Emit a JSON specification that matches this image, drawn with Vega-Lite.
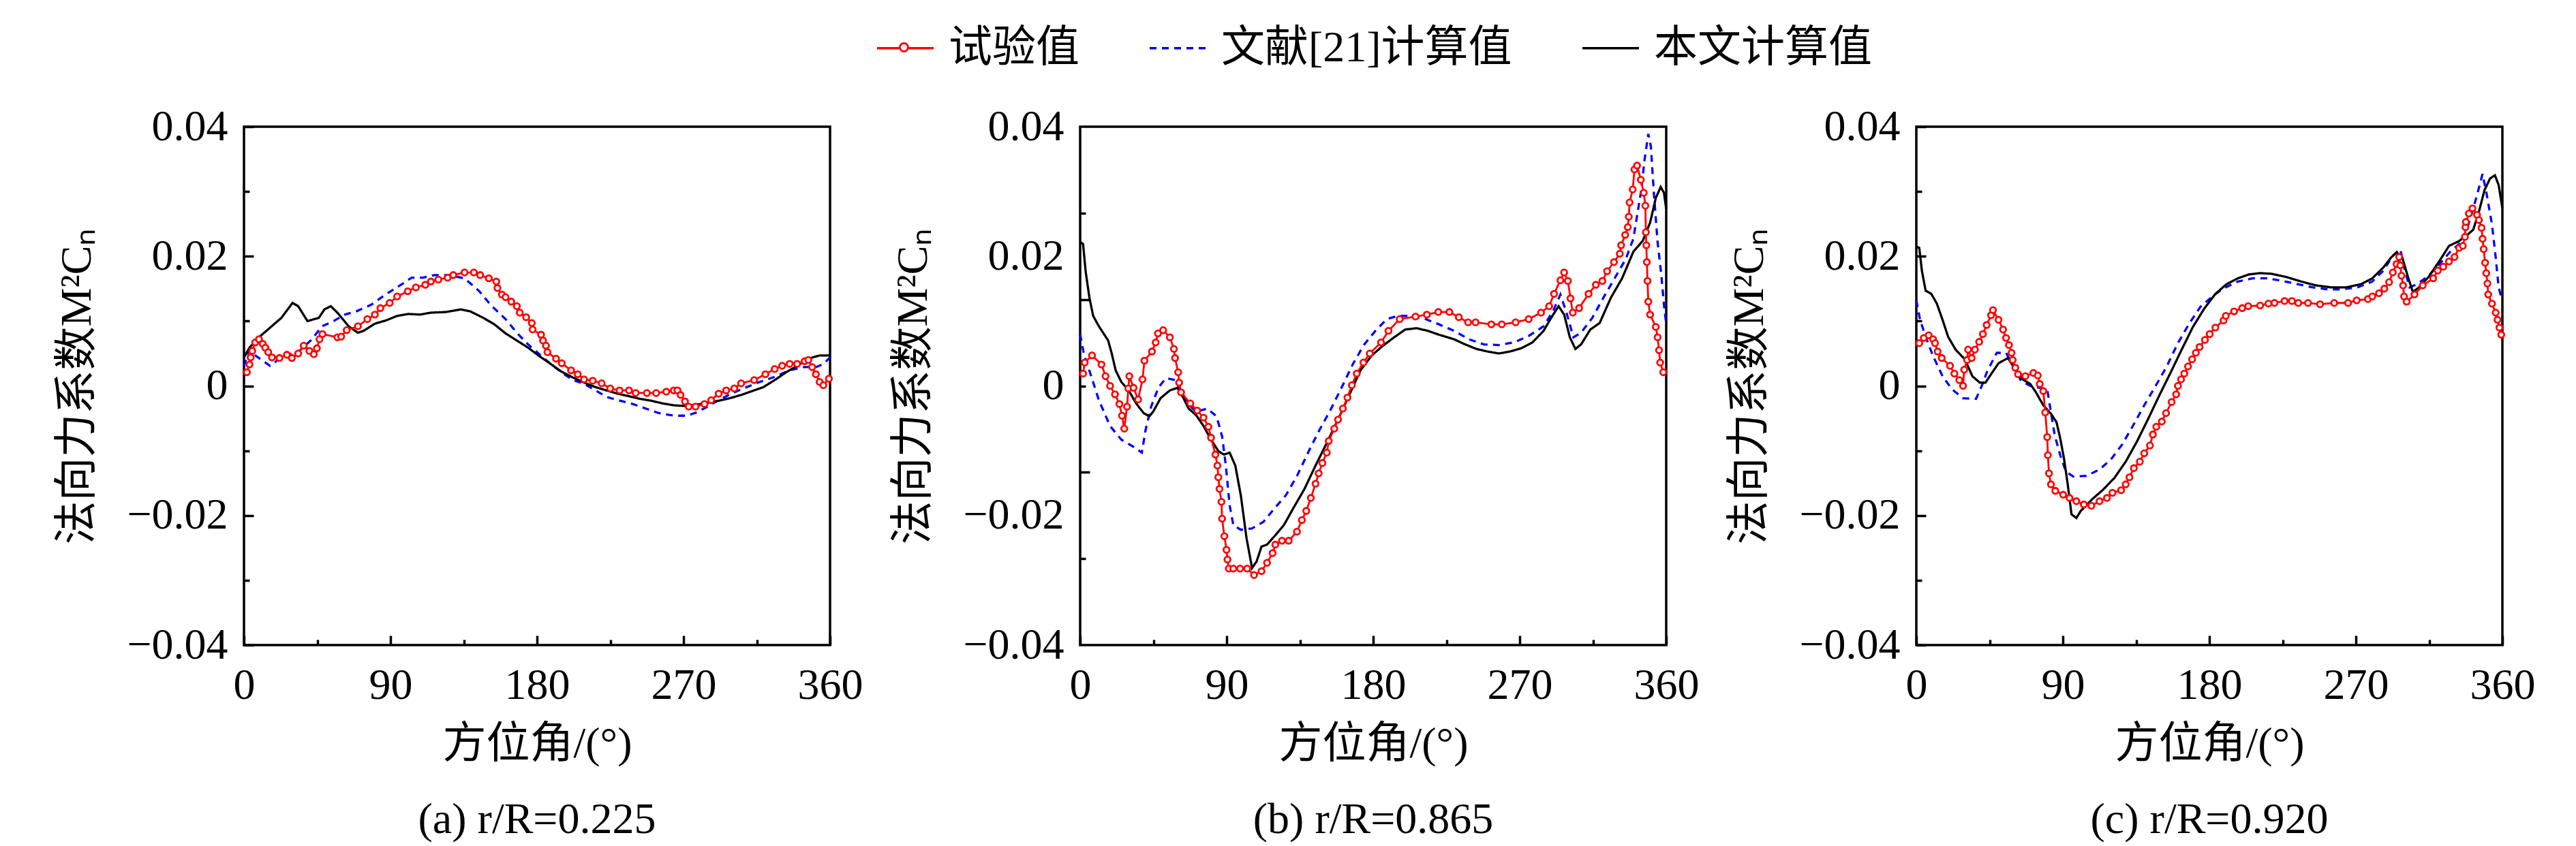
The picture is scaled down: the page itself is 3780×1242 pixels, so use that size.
{
"$schema": "https://vega.github.io/schema/vega-lite/v6.json",
"padding": {"left": 80, "top": 27, "right": 5, "bottom": 5},
"background": "white",
"data": {"values": [
{"p":"a","s":"本文计算值","a":0,"v":0.0044},{"p":"a","s":"本文计算值","a":3.4,"v":0.0059},{"p":"a","s":"本文计算值","a":9.2,"v":0.0075},{"p":"a","s":"本文计算值","a":16.1,"v":0.009},{"p":"a","s":"本文计算值","a":23,"v":0.0105},{"p":"a","s":"本文计算值","a":29.8,"v":0.0128},{"p":"a","s":"本文计算值","a":33.3,"v":0.0123},{"p":"a","s":"本文计算值","a":39,"v":0.01},{"p":"a","s":"本文计算值","a":46,"v":0.0105},{"p":"a","s":"本文计算值","a":49.4,"v":0.0118},{"p":"a","s":"本文计算值","a":53.3,"v":0.0123},{"p":"a","s":"本文计算值","a":57.4,"v":0.0113},{"p":"a","s":"本文计算值","a":64.3,"v":0.0092},{"p":"a","s":"本文计算值","a":70,"v":0.0082},{"p":"a","s":"本文计算值","a":73.5,"v":0.0085},{"p":"a","s":"本文计算值","a":80.4,"v":0.0096},{"p":"a","s":"本文计算值","a":87.2,"v":0.0101},{"p":"a","s":"本文计算值","a":94.1,"v":0.0108},{"p":"a","s":"本文计算值","a":101,"v":0.0111},{"p":"a","s":"本文计算值","a":108,"v":0.011},{"p":"a","s":"本文计算值","a":114.8,"v":0.0113},{"p":"a","s":"本文计算值","a":124,"v":0.0114},{"p":"a","s":"本文计算值","a":133.2,"v":0.0118},{"p":"a","s":"本文计算值","a":139,"v":0.0115},{"p":"a","s":"本文计算值","a":147,"v":0.0105},{"p":"a","s":"本文计算值","a":153.8,"v":0.0095},{"p":"a","s":"本文计算值","a":160.7,"v":0.0081},{"p":"a","s":"本文计算值","a":167.6,"v":0.007},{"p":"a","s":"本文计算值","a":174.5,"v":0.0059},{"p":"a","s":"本文计算值","a":181.4,"v":0.0046},{"p":"a","s":"本文计算值","a":188.3,"v":0.0034},{"p":"a","s":"本文计算值","a":195,"v":0.0022},{"p":"a","s":"本文计算值","a":202,"v":0.0013},{"p":"a","s":"本文计算值","a":209,"v":0.0005},{"p":"a","s":"本文计算值","a":216,"v":-0.0002},{"p":"a","s":"本文计算值","a":222.7,"v":-0.0007},{"p":"a","s":"本文计算值","a":229.6,"v":-0.0012},{"p":"a","s":"本文计算值","a":236.5,"v":-0.0016},{"p":"a","s":"本文计算值","a":243.4,"v":-0.002},{"p":"a","s":"本文计算值","a":250.3,"v":-0.0023},{"p":"a","s":"本文计算值","a":257,"v":-0.0027},{"p":"a","s":"本文计算值","a":264,"v":-0.003},{"p":"a","s":"本文计算值","a":271,"v":-0.0031},{"p":"a","s":"本文计算值","a":278,"v":-0.0029},{"p":"a","s":"本文计算值","a":284.7,"v":-0.0026},{"p":"a","s":"本文计算值","a":291.6,"v":-0.0023},{"p":"a","s":"本文计算值","a":298.5,"v":-0.0019},{"p":"a","s":"本文计算值","a":305.4,"v":-0.0014},{"p":"a","s":"本文计算值","a":312.2,"v":-0.0008},{"p":"a","s":"本文计算值","a":319,"v":-0.0002},{"p":"a","s":"本文计算值","a":326,"v":0.0009},{"p":"a","s":"本文计算值","a":333,"v":0.0021},{"p":"a","s":"本文计算值","a":339.8,"v":0.0031},{"p":"a","s":"本文计算值","a":346.7,"v":0.0042},{"p":"a","s":"本文计算值","a":353.6,"v":0.0047},{"p":"a","s":"本文计算值","a":360,"v":0.0047},
{"p":"a","s":"文献[21]计算值","a":0,"v":0.003},{"p":"a","s":"文献[21]计算值","a":3,"v":0.0055},{"p":"a","s":"文献[21]计算值","a":8,"v":0.0045},{"p":"a","s":"文献[21]计算值","a":16,"v":0.0031},{"p":"a","s":"文献[21]计算值","a":23,"v":0.0044},{"p":"a","s":"文献[21]计算值","a":34,"v":0.0054},{"p":"a","s":"文献[21]计算值","a":41,"v":0.007},{"p":"a","s":"文献[21]计算值","a":48,"v":0.0092},{"p":"a","s":"文献[21]计算值","a":55,"v":0.01},{"p":"a","s":"文献[21]计算值","a":62,"v":0.011},{"p":"a","s":"文献[21]计算值","a":69,"v":0.0115},{"p":"a","s":"文献[21]计算值","a":78,"v":0.0125},{"p":"a","s":"文献[21]计算值","a":87,"v":0.0141},{"p":"a","s":"文献[21]计算值","a":96.4,"v":0.0156},{"p":"a","s":"文献[21]计算值","a":103,"v":0.0167},{"p":"a","s":"文献[21]计算值","a":110,"v":0.0167},{"p":"a","s":"文献[21]计算值","a":117,"v":0.0171},{"p":"a","s":"文献[21]计算值","a":126,"v":0.0171},{"p":"a","s":"文献[21]计算值","a":135.5,"v":0.0166},{"p":"a","s":"文献[21]计算值","a":144.6,"v":0.0146},{"p":"a","s":"文献[21]计算值","a":151.5,"v":0.0125},{"p":"a","s":"文献[21]计算值","a":160.7,"v":0.0103},{"p":"a","s":"文献[21]计算值","a":167.6,"v":0.0082},{"p":"a","s":"文献[21]计算值","a":174.5,"v":0.0064},{"p":"a","s":"文献[21]计算值","a":181.4,"v":0.0049},{"p":"a","s":"文献[21]计算值","a":188.3,"v":0.0034},{"p":"a","s":"文献[21]计算值","a":195,"v":0.0021},{"p":"a","s":"文献[21]计算值","a":202,"v":0.0009},{"p":"a","s":"文献[21]计算值","a":209,"v":0.0003},{"p":"a","s":"文献[21]计算值","a":216,"v":-0.0007},{"p":"a","s":"文献[21]计算值","a":222.7,"v":-0.0017},{"p":"a","s":"文献[21]计算值","a":229.6,"v":-0.0022},{"p":"a","s":"文献[21]计算值","a":238.8,"v":-0.0028},{"p":"a","s":"文献[21]计算值","a":248,"v":-0.0036},{"p":"a","s":"文献[21]计算值","a":254.8,"v":-0.0042},{"p":"a","s":"文献[21]计算值","a":264,"v":-0.0046},{"p":"a","s":"文献[21]计算值","a":272,"v":-0.0046},{"p":"a","s":"文献[21]计算值","a":278,"v":-0.0041},{"p":"a","s":"文献[21]计算值","a":284.7,"v":-0.0032},{"p":"a","s":"文献[21]计算值","a":291.6,"v":-0.0022},{"p":"a","s":"文献[21]计算值","a":298.5,"v":-0.0013},{"p":"a","s":"文献[21]计算值","a":307.7,"v":-0.0003},{"p":"a","s":"文献[21]计算值","a":316.8,"v":0.0006},{"p":"a","s":"文献[21]计算值","a":326,"v":0.0014},{"p":"a","s":"文献[21]计算值","a":335,"v":0.0024},{"p":"a","s":"文献[21]计算值","a":344,"v":0.0029},{"p":"a","s":"文献[21]计算值","a":351.4,"v":0.0029},{"p":"a","s":"文献[21]计算值","a":356,"v":0.0034},{"p":"a","s":"文献[21]计算值","a":360,"v":0.0044},
{"p":"a","s":"试验值","a":1.8,"v":0.0021},{"p":"a","s":"试验值","a":3.4,"v":0.0033},{"p":"a","s":"试验值","a":4.1,"v":0.0044},{"p":"a","s":"试验值","a":5.1,"v":0.0054},{"p":"a","s":"试验值","a":6.9,"v":0.0067},{"p":"a","s":"试验值","a":9.2,"v":0.0072},{"p":"a","s":"试验值","a":11.5,"v":0.0065},{"p":"a","s":"试验值","a":13.1,"v":0.0059},{"p":"a","s":"试验值","a":14.9,"v":0.0052},{"p":"a","s":"试验值","a":17.2,"v":0.0044},{"p":"a","s":"试验值","a":21.8,"v":0.0043},{"p":"a","s":"试验值","a":26.4,"v":0.0048},{"p":"a","s":"试验值","a":29.4,"v":0.0043},{"p":"a","s":"试验值","a":33.3,"v":0.005},{"p":"a","s":"试验值","a":36.7,"v":0.0062},{"p":"a","s":"试验值","a":40.2,"v":0.0054},{"p":"a","s":"试验值","a":42.9,"v":0.0049},{"p":"a","s":"试验值","a":44.8,"v":0.0058},{"p":"a","s":"试验值","a":46.4,"v":0.0072},{"p":"a","s":"试验值","a":48.2,"v":0.008},{"p":"a","s":"试验值","a":57.4,"v":0.0075},{"p":"a","s":"试验值","a":59.7,"v":0.0076},{"p":"a","s":"试验值","a":63.1,"v":0.0086},{"p":"a","s":"试验值","a":70,"v":0.0092},{"p":"a","s":"试验值","a":75.8,"v":0.0103},{"p":"a","s":"试验值","a":80.4,"v":0.011},{"p":"a","s":"试验值","a":83.8,"v":0.012},{"p":"a","s":"试验值","a":89.5,"v":0.0128},{"p":"a","s":"试验值","a":94.1,"v":0.0138},{"p":"a","s":"试验值","a":100.6,"v":0.0146},{"p":"a","s":"试验值","a":105.6,"v":0.0152},{"p":"a","s":"试验值","a":111.4,"v":0.0156},{"p":"a","s":"试验值","a":114.8,"v":0.0161},{"p":"a","s":"试验值","a":119.4,"v":0.0164},{"p":"a","s":"试验值","a":125.1,"v":0.0167},{"p":"a","s":"试验值","a":128.6,"v":0.0171},{"p":"a","s":"试验值","a":135.5,"v":0.0175},{"p":"a","s":"试验值","a":141.2,"v":0.0175},{"p":"a","s":"试验值","a":145.1,"v":0.0171},{"p":"a","s":"试验值","a":150.4,"v":0.0166},{"p":"a","s":"试验值","a":155,"v":0.0161},{"p":"a","s":"试验值","a":155.7,"v":0.0151},{"p":"a","s":"试验值","a":158.4,"v":0.0141},{"p":"a","s":"试验值","a":160.7,"v":0.0137},{"p":"a","s":"试验值","a":164.2,"v":0.013},{"p":"a","s":"试验值","a":167.6,"v":0.0123},{"p":"a","s":"试验值","a":169.4,"v":0.0113},{"p":"a","s":"试验值","a":173.3,"v":0.0106},{"p":"a","s":"试验值","a":176.8,"v":0.0097},{"p":"a","s":"试验值","a":177.3,"v":0.0087},{"p":"a","s":"试验值","a":182.5,"v":0.0079},{"p":"a","s":"试验值","a":183.7,"v":0.007},{"p":"a","s":"试验值","a":185.5,"v":0.0062},{"p":"a","s":"试验值","a":186.4,"v":0.0052},{"p":"a","s":"试验值","a":191.7,"v":0.0042},{"p":"a","s":"试验值","a":195.2,"v":0.0035},{"p":"a","s":"试验值","a":200.9,"v":0.0024},{"p":"a","s":"试验值","a":205,"v":0.0018},{"p":"a","s":"试验值","a":208.9,"v":0.001},{"p":"a","s":"试验值","a":214.2,"v":0.0008},{"p":"a","s":"试验值","a":219.7,"v":0.0004},{"p":"a","s":"试验值","a":225,"v":-0.0004},{"p":"a","s":"试验值","a":230.7,"v":-0.0007},{"p":"a","s":"试验值","a":236.5,"v":-0.0007},{"p":"a","s":"试验值","a":240.6,"v":-0.0011},{"p":"a","s":"试验值","a":247.5,"v":-0.0011},{"p":"a","s":"试验值","a":253.2,"v":-0.0011},{"p":"a","s":"试验值","a":259.4,"v":-0.0009},{"p":"a","s":"试验值","a":264,"v":-0.0007},{"p":"a","s":"试验值","a":266.3,"v":-0.0007},{"p":"a","s":"试验值","a":268.2,"v":-0.0014},{"p":"a","s":"试验值","a":270.9,"v":-0.0024},{"p":"a","s":"试验值","a":273.2,"v":-0.0032},{"p":"a","s":"试验值","a":277.4,"v":-0.0032},{"p":"a","s":"试验值","a":282.9,"v":-0.0028},{"p":"a","s":"试验值","a":287,"v":-0.0022},{"p":"a","s":"试验值","a":291.6,"v":-0.0012},{"p":"a","s":"试验值","a":296.2,"v":-0.0007},{"p":"a","s":"试验值","a":301.2,"v":-0.0004},{"p":"a","s":"试验值","a":305.4,"v":0.0004},{"p":"a","s":"试验值","a":313.4,"v":0.0009},{"p":"a","s":"试验值","a":320.3,"v":0.0018},{"p":"a","s":"试验值","a":326,"v":0.0026},{"p":"a","s":"试验值","a":330.6,"v":0.0031},{"p":"a","s":"试验值","a":335.2,"v":0.0034},{"p":"a","s":"试验值","a":339.8,"v":0.0034},{"p":"a","s":"试验值","a":344.4,"v":0.0038},{"p":"a","s":"试验值","a":346.7,"v":0.004},{"p":"a","s":"试验值","a":349,"v":0.0029},{"p":"a","s":"试验值","a":351.3,"v":0.0018},{"p":"a","s":"试验值","a":353.6,"v":0.0006},{"p":"a","s":"试验值","a":355.9,"v":0.0001},{"p":"a","s":"试验值","a":359.3,"v":0.0011},
{"p":"b","s":"本文计算值","a":0,"v":0.0222},{"p":"b","s":"本文计算值","a":1.8,"v":0.0219},{"p":"b","s":"本文计算值","a":3.4,"v":0.0176},{"p":"b","s":"本文计算值","a":5.7,"v":0.0136},{"p":"b","s":"本文计算值","a":8,"v":0.0108},{"p":"b","s":"本文计算值","a":11.5,"v":0.0092},{"p":"b","s":"本文计算值","a":17.2,"v":0.007},{"p":"b","s":"本文计算值","a":19.5,"v":0.0049},{"p":"b","s":"本文计算值","a":21.8,"v":0.0024},{"p":"b","s":"本文计算值","a":25.3,"v":0.0006},{"p":"b","s":"本文计算值","a":29.8,"v":-0.0007},{"p":"b","s":"本文计算值","a":34.4,"v":-0.0027},{"p":"b","s":"本文计算值","a":39,"v":-0.0042},{"p":"b","s":"本文计算值","a":42.5,"v":-0.0047},{"p":"b","s":"本文计算值","a":44.8,"v":-0.004},{"p":"b","s":"本文计算值","a":49.4,"v":-0.0019},{"p":"b","s":"本文计算值","a":55.1,"v":-0.0007},{"p":"b","s":"本文计算值","a":59.7,"v":-0.0003},{"p":"b","s":"本文计算值","a":63.1,"v":-0.0017},{"p":"b","s":"本文计算值","a":66.6,"v":-0.0035},{"p":"b","s":"本文计算值","a":71.2,"v":-0.0045},{"p":"b","s":"本文计算值","a":75.8,"v":-0.0062},{"p":"b","s":"本文计算值","a":80.4,"v":-0.0083},{"p":"b","s":"本文计算值","a":85,"v":-0.0101},{"p":"b","s":"本文计算值","a":88.4,"v":-0.0106},{"p":"b","s":"本文计算值","a":91.8,"v":-0.0103},{"p":"b","s":"本文计算值","a":95.3,"v":-0.0123},{"p":"b","s":"本文计算值","a":98.7,"v":-0.0169},{"p":"b","s":"本文计算值","a":102.2,"v":-0.0235},{"p":"b","s":"本文计算值","a":105.6,"v":-0.0281},{"p":"b","s":"本文计算值","a":108.4,"v":-0.0271},{"p":"b","s":"本文计算值","a":111.4,"v":-0.0248},{"p":"b","s":"本文计算值","a":114.8,"v":-0.0245},{"p":"b","s":"本文计算值","a":119.4,"v":-0.0232},{"p":"b","s":"本文计算值","a":125.1,"v":-0.0215},{"p":"b","s":"本文计算值","a":130.9,"v":-0.0189},{"p":"b","s":"本文计算值","a":137.8,"v":-0.0159},{"p":"b","s":"本文计算值","a":144.6,"v":-0.0123},{"p":"b","s":"本文计算值","a":151.5,"v":-0.0088},{"p":"b","s":"本文计算值","a":158.4,"v":-0.0052},{"p":"b","s":"本文计算值","a":165.3,"v":-0.0014},{"p":"b","s":"本文计算值","a":172.2,"v":0.0024},{"p":"b","s":"本文计算值","a":179.1,"v":0.0047},{"p":"b","s":"本文计算值","a":186,"v":0.0062},{"p":"b","s":"本文计算值","a":192.9,"v":0.0075},{"p":"b","s":"本文计算值","a":199.7,"v":0.0087},{"p":"b","s":"本文计算值","a":206.6,"v":0.0089},{"p":"b","s":"本文计算值","a":213.5,"v":0.0085},{"p":"b","s":"本文计算值","a":220.4,"v":0.0079},{"p":"b","s":"本文计算值","a":229.6,"v":0.0072},{"p":"b","s":"本文计算值","a":236.5,"v":0.0064},{"p":"b","s":"本文计算值","a":243.4,"v":0.0057},{"p":"b","s":"本文计算值","a":250.3,"v":0.0053},{"p":"b","s":"本文计算值","a":257.2,"v":0.005},{"p":"b","s":"本文计算值","a":264,"v":0.0053},{"p":"b","s":"本文计算值","a":270.9,"v":0.0058},{"p":"b","s":"本文计算值","a":277.8,"v":0.0067},{"p":"b","s":"本文计算值","a":284.7,"v":0.0085},{"p":"b","s":"本文计算值","a":289.3,"v":0.0105},{"p":"b","s":"本文计算值","a":293.9,"v":0.0123},{"p":"b","s":"本文计算值","a":297.3,"v":0.011},{"p":"b","s":"本文计算值","a":300.8,"v":0.0075},{"p":"b","s":"本文计算值","a":304.2,"v":0.0057},{"p":"b","s":"本文计算值","a":307.7,"v":0.0064},{"p":"b","s":"本文计算值","a":313.4,"v":0.0087},{"p":"b","s":"本文计算值","a":319.1,"v":0.0097},{"p":"b","s":"本文计算值","a":326,"v":0.0136},{"p":"b","s":"本文计算值","a":332.9,"v":0.0166},{"p":"b","s":"本文计算值","a":339.8,"v":0.0207},{"p":"b","s":"本文计算值","a":345.6,"v":0.0224},{"p":"b","s":"本文计算值","a":350.1,"v":0.0252},{"p":"b","s":"本文计算值","a":353.6,"v":0.029},{"p":"b","s":"本文计算值","a":356.6,"v":0.0307},{"p":"b","s":"本文计算值","a":358.6,"v":0.0298},{"p":"b","s":"本文计算值","a":360,"v":0.0273},
{"p":"b","s":"文献[21]计算值","a":0,"v":0.008},{"p":"b","s":"文献[21]计算值","a":2.3,"v":0.0049},{"p":"b","s":"文献[21]计算值","a":6.9,"v":0.0014},{"p":"b","s":"文献[21]计算值","a":11.5,"v":-0.0022},{"p":"b","s":"文献[21]计算值","a":18.4,"v":-0.0062},{"p":"b","s":"文献[21]计算值","a":25.3,"v":-0.0083},{"p":"b","s":"文献[21]计算值","a":32.1,"v":-0.0093},{"p":"b","s":"文献[21]计算值","a":37.9,"v":-0.0103},{"p":"b","s":"文献[21]计算值","a":40.2,"v":-0.0068},{"p":"b","s":"文献[21]计算值","a":43.6,"v":-0.0032},{"p":"b","s":"文献[21]计算值","a":48.2,"v":-0.0002},{"p":"b","s":"文献[21]计算值","a":52.8,"v":0.0012},{"p":"b","s":"文献[21]计算值","a":58.5,"v":0.0009},{"p":"b","s":"文献[21]计算值","a":62,"v":-0.0007},{"p":"b","s":"文献[21]计算值","a":66.6,"v":-0.0029},{"p":"b","s":"文献[21]计算值","a":71.2,"v":-0.004},{"p":"b","s":"文献[21]计算值","a":78,"v":-0.0035},{"p":"b","s":"文献[21]计算值","a":83.8,"v":-0.0047},{"p":"b","s":"文献[21]计算值","a":87.2,"v":-0.0078},{"p":"b","s":"文献[21]计算值","a":89.5,"v":-0.0123},{"p":"b","s":"文献[21]计算值","a":91.8,"v":-0.0184},{"p":"b","s":"文献[21]计算值","a":94.1,"v":-0.0215},{"p":"b","s":"文献[21]计算值","a":98.7,"v":-0.0222},{"p":"b","s":"文献[21]计算值","a":105.6,"v":-0.022},{"p":"b","s":"文献[21]计算值","a":112.5,"v":-0.021},{"p":"b","s":"文献[21]计算值","a":119.4,"v":-0.0189},{"p":"b","s":"文献[21]计算值","a":126.3,"v":-0.0169},{"p":"b","s":"文献[21]计算值","a":133.2,"v":-0.0139},{"p":"b","s":"文献[21]计算值","a":140,"v":-0.0103},{"p":"b","s":"文献[21]计算值","a":147,"v":-0.0068},{"p":"b","s":"文献[21]计算值","a":153.8,"v":-0.0037},{"p":"b","s":"文献[21]计算值","a":160.7,"v":-0.0002},{"p":"b","s":"文献[21]计算值","a":167.6,"v":0.0034},{"p":"b","s":"文献[21]计算值","a":174.5,"v":0.0064},{"p":"b","s":"文献[21]计算值","a":181.4,"v":0.0085},{"p":"b","s":"文献[21]计算值","a":188.3,"v":0.0103},{"p":"b","s":"文献[21]计算值","a":195.2,"v":0.0108},{"p":"b","s":"文献[21]计算值","a":202,"v":0.0108},{"p":"b","s":"文献[21]计算值","a":211.2,"v":0.0104},{"p":"b","s":"文献[21]计算值","a":220.4,"v":0.0095},{"p":"b","s":"文献[21]计算值","a":229.6,"v":0.0085},{"p":"b","s":"文献[21]计算值","a":238.8,"v":0.0072},{"p":"b","s":"文献[21]计算值","a":248,"v":0.0064},{"p":"b","s":"文献[21]计算值","a":257.2,"v":0.0063},{"p":"b","s":"文献[21]计算值","a":266.3,"v":0.0067},{"p":"b","s":"文献[21]计算值","a":275.5,"v":0.0077},{"p":"b","s":"文献[21]计算值","a":284.7,"v":0.0092},{"p":"b","s":"文献[21]计算值","a":290.4,"v":0.0115},{"p":"b","s":"文献[21]计算值","a":295,"v":0.0141},{"p":"b","s":"文献[21]计算值","a":298.5,"v":0.0115},{"p":"b","s":"文献[21]计算值","a":303,"v":0.0075},{"p":"b","s":"文献[21]计算值","a":307.7,"v":0.0082},{"p":"b","s":"文献[21]计算值","a":314.6,"v":0.0105},{"p":"b","s":"文献[21]计算值","a":321.4,"v":0.0136},{"p":"b","s":"文献[21]计算值","a":328.3,"v":0.0166},{"p":"b","s":"文献[21]计算值","a":335.2,"v":0.0196},{"p":"b","s":"文献[21]计算值","a":339.8,"v":0.0227},{"p":"b","s":"文献[21]计算值","a":344.4,"v":0.0298},{"p":"b","s":"文献[21]计算值","a":346.7,"v":0.0349},{"p":"b","s":"文献[21]计算值","a":349,"v":0.0389},{"p":"b","s":"文献[21]计算值","a":350.6,"v":0.0369},{"p":"b","s":"文献[21]计算值","a":352.4,"v":0.0298},{"p":"b","s":"文献[21]计算值","a":354.7,"v":0.0222},{"p":"b","s":"文献[21]计算值","a":357,"v":0.0171},{"p":"b","s":"文献[21]计算值","a":358.6,"v":0.0125},{"p":"b","s":"文献[21]计算值","a":360,"v":0.0095},
{"p":"b","s":"试验值","a":1.8,"v":0.0019},{"p":"b","s":"试验值","a":2.8,"v":0.0036},{"p":"b","s":"试验值","a":7.3,"v":0.0047},{"p":"b","s":"试验值","a":13.1,"v":0.0033},{"p":"b","s":"试验值","a":15.6,"v":0.0015},{"p":"b","s":"试验值","a":18.4,"v":0},{"p":"b","s":"试验值","a":21.4,"v":-0.0013},{"p":"b","s":"试验值","a":24.1,"v":-0.0028},{"p":"b","s":"试验值","a":25.7,"v":-0.0046},{"p":"b","s":"试验值","a":27.1,"v":-0.0066},{"p":"b","s":"试验值","a":28.8,"v":-0.0032},{"p":"b","s":"试验值","a":29.6,"v":-0.0004},{"p":"b","s":"试验值","a":30.2,"v":0.0015},{"p":"b","s":"试验值","a":32.8,"v":-0.0003},{"p":"b","s":"试验值","a":35.6,"v":-0.0021},{"p":"b","s":"试验值","a":38.3,"v":0.001},{"p":"b","s":"试验值","a":39.5,"v":0.0039},{"p":"b","s":"试验值","a":44.1,"v":0.0053},{"p":"b","s":"试验值","a":46.4,"v":0.0067},{"p":"b","s":"试验值","a":47.8,"v":0.0081},{"p":"b","s":"试验值","a":51,"v":0.0086},{"p":"b","s":"试验值","a":55.1,"v":0.0075},{"p":"b","s":"试验值","a":57.6,"v":0.0057},{"p":"b","s":"试验值","a":58.3,"v":0.0043},{"p":"b","s":"试验值","a":60.2,"v":0.0021},{"p":"b","s":"试验值","a":60.8,"v":0.0005},{"p":"b","s":"试验值","a":62,"v":-0.001},{"p":"b","s":"试验值","a":67.7,"v":-0.0027},{"p":"b","s":"试验值","a":71.9,"v":-0.0038},{"p":"b","s":"试验值","a":75.8,"v":-0.0049},{"p":"b","s":"试验值","a":78.8,"v":-0.0063},{"p":"b","s":"试验值","a":80.4,"v":-0.008},{"p":"b","s":"试验值","a":83.1,"v":-0.0106},{"p":"b","s":"试验值","a":84.3,"v":-0.0123},{"p":"b","s":"试验值","a":84.9,"v":-0.0141},{"p":"b","s":"试验值","a":85.6,"v":-0.0159},{"p":"b","s":"试验值","a":86.8,"v":-0.0179},{"p":"b","s":"试验值","a":87.2,"v":-0.0205},{"p":"b","s":"试验值","a":88.6,"v":-0.0232},{"p":"b","s":"试验值","a":89.9,"v":-0.0253},{"p":"b","s":"试验值","a":90.5,"v":-0.0268},{"p":"b","s":"试验值","a":91.3,"v":-0.0282},{"p":"b","s":"试验值","a":94.1,"v":-0.0282},{"p":"b","s":"试验值","a":98.3,"v":-0.0282},{"p":"b","s":"试验值","a":102.6,"v":-0.0282},{"p":"b","s":"试验值","a":106.8,"v":-0.0292},{"p":"b","s":"试验值","a":111.4,"v":-0.0286},{"p":"b","s":"试验值","a":114.8,"v":-0.0273},{"p":"b","s":"试验值","a":118.2,"v":-0.0258},{"p":"b","s":"试验值","a":119.9,"v":-0.0245},{"p":"b","s":"试验值","a":124,"v":-0.0239},{"p":"b","s":"试验值","a":128.1,"v":-0.0239},{"p":"b","s":"试验值","a":133.2,"v":-0.0225},{"p":"b","s":"试验值","a":136.2,"v":-0.0207},{"p":"b","s":"试验值","a":138.9,"v":-0.0193},{"p":"b","s":"试验值","a":141.7,"v":-0.0173},{"p":"b","s":"试验值","a":144.6,"v":-0.0151},{"p":"b","s":"试验值","a":146.5,"v":-0.0135},{"p":"b","s":"试验值","a":148.8,"v":-0.0119},{"p":"b","s":"试验值","a":151.5,"v":-0.0103},{"p":"b","s":"试验值","a":152.7,"v":-0.0085},{"p":"b","s":"试验值","a":156.1,"v":-0.0066},{"p":"b","s":"试验值","a":158.4,"v":-0.0052},{"p":"b","s":"试验值","a":161.4,"v":-0.0035},{"p":"b","s":"试验值","a":164.2,"v":-0.0018},{"p":"b","s":"试验值","a":166.9,"v":0.0001},{"p":"b","s":"试验值","a":169.9,"v":0.0019},{"p":"b","s":"试验值","a":174,"v":0.0036},{"p":"b","s":"试验值","a":177.9,"v":0.005},{"p":"b","s":"试验值","a":184.8,"v":0.0067},{"p":"b","s":"试验值","a":189.4,"v":0.0085},{"p":"b","s":"试验值","a":196.3,"v":0.0103},{"p":"b","s":"试验值","a":206,"v":0.0107},{"p":"b","s":"试验值","a":213,"v":0.011},{"p":"b","s":"试验值","a":220,"v":0.0114},{"p":"b","s":"试验值","a":226.8,"v":0.0114},{"p":"b","s":"试验值","a":232.6,"v":0.0106},{"p":"b","s":"试验值","a":238.3,"v":0.0098},{"p":"b","s":"试验值","a":242.9,"v":0.0098},{"p":"b","s":"试验值","a":252.6,"v":0.0095},{"p":"b","s":"试验值","a":259,"v":0.0095},{"p":"b","s":"试验值","a":267.5,"v":0.0098},{"p":"b","s":"试验值","a":275.5,"v":0.0103},{"p":"b","s":"试验值","a":283.1,"v":0.0113},{"p":"b","s":"试验值","a":288.1,"v":0.0123},{"p":"b","s":"试验值","a":291.1,"v":0.0142},{"p":"b","s":"试验值","a":295,"v":0.0163},{"p":"b","s":"试验值","a":297.3,"v":0.0175},{"p":"b","s":"试验值","a":299.6,"v":0.0162},{"p":"b","s":"试验值","a":301.2,"v":0.0135},{"p":"b","s":"试验值","a":302.6,"v":0.0113},{"p":"b","s":"试验值","a":306.5,"v":0.012},{"p":"b","s":"试验值","a":312.3,"v":0.0142},{"p":"b","s":"试验值","a":316.8,"v":0.0156},{"p":"b","s":"试验值","a":320.8,"v":0.0162},{"p":"b","s":"试验值","a":323.7,"v":0.0177},{"p":"b","s":"试验值","a":327.9,"v":0.0191},{"p":"b","s":"试验值","a":331.5,"v":0.0204},{"p":"b","s":"试验值","a":332.3,"v":0.0217},{"p":"b","s":"试验值","a":334.8,"v":0.0233},{"p":"b","s":"试验值","a":336.4,"v":0.0245},{"p":"b","s":"试验值","a":337,"v":0.0261},{"p":"b","s":"试验值","a":337.5,"v":0.0283},{"p":"b","s":"试验值","a":339.4,"v":0.0303},{"p":"b","s":"试验值","a":340.5,"v":0.0334},{"p":"b","s":"试验值","a":342.1,"v":0.034},{"p":"b","s":"试验值","a":344.4,"v":0.0318},{"p":"b","s":"试验值","a":346.2,"v":0.0298},{"p":"b","s":"试验值","a":347.2,"v":0.0278},{"p":"b","s":"试验值","a":347.5,"v":0.0237},{"p":"b","s":"试验值","a":347.8,"v":0.0217},{"p":"b","s":"试验值","a":348.1,"v":0.0191},{"p":"b","s":"试验值","a":348.5,"v":0.0162},{"p":"b","s":"试验值","a":349,"v":0.013},{"p":"b","s":"试验值","a":350.1,"v":0.011},{"p":"b","s":"试验值","a":353.6,"v":0.0091},{"p":"b","s":"试验值","a":354.7,"v":0.0075},{"p":"b","s":"试验值","a":355.6,"v":0.0055},{"p":"b","s":"试验值","a":356.3,"v":0.0036},{"p":"b","s":"试验值","a":358.2,"v":0.0021},
{"p":"c","s":"本文计算值","a":0,"v":0.0215},{"p":"c","s":"本文计算值","a":1.8,"v":0.0213},{"p":"c","s":"本文计算值","a":3.4,"v":0.0178},{"p":"c","s":"本文计算值","a":5.7,"v":0.0147},{"p":"c","s":"本文计算值","a":9.2,"v":0.0142},{"p":"c","s":"本文计算值","a":12.6,"v":0.0127},{"p":"c","s":"本文计算值","a":16.1,"v":0.0102},{"p":"c","s":"本文计算值","a":19.5,"v":0.0076},{"p":"c","s":"本文计算值","a":24.1,"v":0.0056},{"p":"c","s":"本文计算值","a":29.8,"v":0.0041},{"p":"c","s":"本文计算值","a":34.4,"v":0.0015},{"p":"c","s":"本文计算值","a":39,"v":0.0005},{"p":"c","s":"本文计算值","a":42.5,"v":0.0005},{"p":"c","s":"本文计算值","a":45.9,"v":0.0018},{"p":"c","s":"本文计算值","a":50.5,"v":0.0035},{"p":"c","s":"本文计算值","a":56.3,"v":0.0043},{"p":"c","s":"本文计算值","a":60.8,"v":0.0025},{"p":"c","s":"本文计算值","a":65.4,"v":0.001},{"p":"c","s":"本文计算值","a":70,"v":0.0003},{"p":"c","s":"本文计算值","a":73.5,"v":-0.001},{"p":"c","s":"本文计算值","a":78,"v":-0.003},{"p":"c","s":"本文计算值","a":82.7,"v":-0.0043},{"p":"c","s":"本文计算值","a":86.1,"v":-0.0056},{"p":"c","s":"本文计算值","a":88.4,"v":-0.0081},{"p":"c","s":"本文计算值","a":90.7,"v":-0.0112},{"p":"c","s":"本文计算值","a":93,"v":-0.0152},{"p":"c","s":"本文计算值","a":95.3,"v":-0.0198},{"p":"c","s":"本文计算值","a":98.3,"v":-0.0204},{"p":"c","s":"本文计算值","a":101,"v":-0.0193},{"p":"c","s":"本文计算值","a":108,"v":-0.0175},{"p":"c","s":"本文计算值","a":114.8,"v":-0.016},{"p":"c","s":"本文计算值","a":121.7,"v":-0.0142},{"p":"c","s":"本文计算值","a":128.6,"v":-0.0117},{"p":"c","s":"本文计算值","a":135.5,"v":-0.0086},{"p":"c","s":"本文计算值","a":142.4,"v":-0.0051},{"p":"c","s":"本文计算值","a":149.2,"v":-0.0015},{"p":"c","s":"本文计算值","a":156.1,"v":0.002},{"p":"c","s":"本文计算值","a":163,"v":0.0056},{"p":"c","s":"本文计算值","a":169.9,"v":0.0091},{"p":"c","s":"本文计算值","a":176.8,"v":0.0119},{"p":"c","s":"本文计算值","a":183.7,"v":0.0142},{"p":"c","s":"本文计算值","a":190.6,"v":0.0157},{"p":"c","s":"本文计算值","a":197.5,"v":0.0166},{"p":"c","s":"本文计算值","a":204.3,"v":0.0172},{"p":"c","s":"本文计算值","a":211.2,"v":0.0174},{"p":"c","s":"本文计算值","a":218.1,"v":0.0173},{"p":"c","s":"本文计算值","a":227.3,"v":0.0168},{"p":"c","s":"本文计算值","a":236.5,"v":0.0161},{"p":"c","s":"本文计算值","a":245.7,"v":0.0155},{"p":"c","s":"本文计算值","a":254.9,"v":0.0152},{"p":"c","s":"本文计算值","a":264,"v":0.0152},{"p":"c","s":"本文计算值","a":273.2,"v":0.0157},{"p":"c","s":"本文计算值","a":280.1,"v":0.0166},{"p":"c","s":"本文计算值","a":287,"v":0.0183},{"p":"c","s":"本文计算值","a":291.6,"v":0.0198},{"p":"c","s":"本文计算值","a":295,"v":0.0206},{"p":"c","s":"本文计算值","a":298.5,"v":0.0198},{"p":"c","s":"本文计算值","a":302,"v":0.0168},{"p":"c","s":"本文计算值","a":305,"v":0.0145},{"p":"c","s":"本文计算值","a":308.8,"v":0.0152},{"p":"c","s":"本文计算值","a":314.6,"v":0.0168},{"p":"c","s":"本文计算值","a":321.4,"v":0.0193},{"p":"c","s":"本文计算值","a":327.2,"v":0.0216},{"p":"c","s":"本文计算值","a":333,"v":0.0223},{"p":"c","s":"本文计算值","a":337.5,"v":0.0231},{"p":"c","s":"本文计算值","a":342.1,"v":0.0241},{"p":"c","s":"本文计算值","a":345.6,"v":0.0269},{"p":"c","s":"本文计算值","a":349,"v":0.0302},{"p":"c","s":"本文计算值","a":352.4,"v":0.032},{"p":"c","s":"本文计算值","a":355.4,"v":0.0325},{"p":"c","s":"本文计算值","a":357.7,"v":0.031},{"p":"c","s":"本文计算值","a":360,"v":0.0274},
{"p":"c","s":"文献[21]计算值","a":0,"v":0.0132},{"p":"c","s":"文献[21]计算值","a":2.3,"v":0.0102},{"p":"c","s":"文献[21]计算值","a":5.7,"v":0.0076},{"p":"c","s":"文献[21]计算值","a":10.3,"v":0.0046},{"p":"c","s":"文献[21]计算值","a":16.1,"v":0.0015},{"p":"c","s":"文献[21]计算值","a":21.8,"v":-0.0005},{"p":"c","s":"文献[21]计算值","a":28.7,"v":-0.0019},{"p":"c","s":"文献[21]计算值","a":36.7,"v":-0.002},{"p":"c","s":"文献[21]计算值","a":40.2,"v":0},{"p":"c","s":"文献[21]计算值","a":43.6,"v":0.0023},{"p":"c","s":"文献[21]计算值","a":49.4,"v":0.0051},{"p":"c","s":"文献[21]计算值","a":55.1,"v":0.0051},{"p":"c","s":"文献[21]计算值","a":59.7,"v":0.003},{"p":"c","s":"文献[21]计算值","a":64.3,"v":0.0008},{"p":"c","s":"文献[21]计算值","a":70,"v":0},{"p":"c","s":"文献[21]计算值","a":75.8,"v":-0.0003},{"p":"c","s":"文献[21]计算值","a":80.4,"v":-0.0005},{"p":"c","s":"文献[21]计算值","a":82.7,"v":-0.0041},{"p":"c","s":"文献[21]计算值","a":85,"v":-0.0076},{"p":"c","s":"文献[21]计算值","a":88.4,"v":-0.0107},{"p":"c","s":"文献[21]计算值","a":91.8,"v":-0.0132},{"p":"c","s":"文献[21]计算值","a":96.4,"v":-0.014},{"p":"c","s":"文献[21]计算值","a":104.5,"v":-0.0139},{"p":"c","s":"文献[21]计算值","a":112.5,"v":-0.0129},{"p":"c","s":"文献[21]计算值","a":119.4,"v":-0.0114},{"p":"c","s":"文献[21]计算值","a":126.3,"v":-0.0091},{"p":"c","s":"文献[21]计算值","a":133.2,"v":-0.0061},{"p":"c","s":"文献[21]计算值","a":140,"v":-0.003},{"p":"c","s":"文献[21]计算值","a":147,"v":0},{"p":"c","s":"文献[21]计算值","a":153.8,"v":0.003},{"p":"c","s":"文献[21]计算值","a":160.7,"v":0.0066},{"p":"c","s":"文献[21]计算值","a":167.6,"v":0.0096},{"p":"c","s":"文献[21]计算值","a":174.5,"v":0.0122},{"p":"c","s":"文献[21]计算值","a":181.4,"v":0.0137},{"p":"c","s":"文献[21]计算值","a":188.3,"v":0.015},{"p":"c","s":"文献[21]计算值","a":197.5,"v":0.0161},{"p":"c","s":"文献[21]计算值","a":206.6,"v":0.0166},{"p":"c","s":"文献[21]计算值","a":215.8,"v":0.0166},{"p":"c","s":"文献[21]计算值","a":225,"v":0.0162},{"p":"c","s":"文献[21]计算值","a":234.2,"v":0.0157},{"p":"c","s":"文献[21]计算值","a":243.4,"v":0.0152},{"p":"c","s":"文献[21]计算值","a":252.6,"v":0.0149},{"p":"c","s":"文献[21]计算值","a":261.7,"v":0.0149},{"p":"c","s":"文献[21]计算值","a":271,"v":0.0152},{"p":"c","s":"文献[21]计算值","a":280,"v":0.0161},{"p":"c","s":"文献[21]计算值","a":287,"v":0.0178},{"p":"c","s":"文献[21]计算值","a":292.7,"v":0.0201},{"p":"c","s":"文献[21]计算值","a":297.3,"v":0.0211},{"p":"c","s":"文献[21]计算值","a":299.6,"v":0.0183},{"p":"c","s":"文献[21]计算值","a":303,"v":0.0152},{"p":"c","s":"文献[21]计算值","a":307.7,"v":0.0157},{"p":"c","s":"文献[21]计算值","a":314.6,"v":0.017},{"p":"c","s":"文献[21]计算值","a":321.4,"v":0.0188},{"p":"c","s":"文献[21]计算值","a":328.3,"v":0.0208},{"p":"c","s":"文献[21]计算值","a":335.2,"v":0.0223},{"p":"c","s":"文献[21]计算值","a":339.8,"v":0.0254},{"p":"c","s":"文献[21]计算值","a":344.4,"v":0.0294},{"p":"c","s":"文献[21]计算值","a":347.8,"v":0.0327},{"p":"c","s":"文献[21]计算值","a":350.1,"v":0.0299},{"p":"c","s":"文献[21]计算值","a":353.6,"v":0.0249},{"p":"c","s":"文献[21]计算值","a":355.9,"v":0.0198},{"p":"c","s":"文献[21]计算值","a":357.7,"v":0.0152},{"p":"c","s":"文献[21]计算值","a":359.3,"v":0.0137},
{"p":"c","s":"试验值","a":1.8,"v":0.0066},{"p":"c","s":"试验值","a":4.6,"v":0.0074},{"p":"c","s":"试验值","a":7.6,"v":0.0078},{"p":"c","s":"试验值","a":10.3,"v":0.0072},{"p":"c","s":"试验值","a":11.5,"v":0.0066},{"p":"c","s":"试验值","a":13.1,"v":0.0053},{"p":"c","s":"试验值","a":15.6,"v":0.0043},{"p":"c","s":"试验值","a":20.7,"v":0.0031},{"p":"c","s":"试验值","a":23.4,"v":0.0019},{"p":"c","s":"试验值","a":26.4,"v":0.0009},{"p":"c","s":"试验值","a":28.7,"v":0},{"p":"c","s":"试验值","a":29.4,"v":0.0025},{"p":"c","s":"试验值","a":31.2,"v":0.004},{"p":"c","s":"试验值","a":31.8,"v":0.0056},{"p":"c","s":"试验值","a":34,"v":0.0043},{"p":"c","s":"试验值","a":36,"v":0.0056},{"p":"c","s":"试验值","a":38.6,"v":0.0068},{"p":"c","s":"试验值","a":40.9,"v":0.008},{"p":"c","s":"试验值","a":43.2,"v":0.0094},{"p":"c","s":"试验值","a":45.9,"v":0.0109},{"p":"c","s":"试验值","a":47.1,"v":0.0117},{"p":"c","s":"试验值","a":50.5,"v":0.0102},{"p":"c","s":"试验值","a":53.3,"v":0.0087},{"p":"c","s":"试验值","a":55.1,"v":0.0074},{"p":"c","s":"试验值","a":56.9,"v":0.0063},{"p":"c","s":"试验值","a":58.5,"v":0.0051},{"p":"c","s":"试验值","a":59.2,"v":0.004},{"p":"c","s":"试验值","a":60.8,"v":0.0028},{"p":"c","s":"试验值","a":62.5,"v":0.0018},{"p":"c","s":"试验值","a":67,"v":0.0015},{"p":"c","s":"试验值","a":71.9,"v":0.002},{"p":"c","s":"试验值","a":74.6,"v":0.0016},{"p":"c","s":"试验值","a":75.8,"v":0.0003},{"p":"c","s":"试验值","a":78,"v":-0.0008},{"p":"c","s":"试验值","a":79.2,"v":-0.0041},{"p":"c","s":"试验值","a":80.4,"v":-0.0079},{"p":"c","s":"试验值","a":80.8,"v":-0.0107},{"p":"c","s":"试验值","a":81.5,"v":-0.0135},{"p":"c","s":"试验值","a":82.7,"v":-0.0152},{"p":"c","s":"试验值","a":85.4,"v":-0.0162},{"p":"c","s":"试验值","a":90.2,"v":-0.0168},{"p":"c","s":"试验值","a":94.1,"v":-0.0173},{"p":"c","s":"试验值","a":98.3,"v":-0.0178},{"p":"c","s":"试验值","a":102.9,"v":-0.0183},{"p":"c","s":"试验值","a":107.5,"v":-0.0185},{"p":"c","s":"试验值","a":112.5,"v":-0.0178},{"p":"c","s":"试验值","a":117.1,"v":-0.0173},{"p":"c","s":"试验值","a":120.5,"v":-0.0165},{"p":"c","s":"试验值","a":125.8,"v":-0.0161},{"p":"c","s":"试验值","a":128.6,"v":-0.0152},{"p":"c","s":"试验值","a":130.9,"v":-0.0141},{"p":"c","s":"试验值","a":133.6,"v":-0.0127},{"p":"c","s":"试验值","a":137.3,"v":-0.0117},{"p":"c","s":"试验值","a":140,"v":-0.0104},{"p":"c","s":"试验值","a":143.5,"v":-0.0092},{"p":"c","s":"试验值","a":145.3,"v":-0.0075},{"p":"c","s":"试验值","a":147.4,"v":-0.0063},{"p":"c","s":"试验值","a":150.8,"v":-0.0055},{"p":"c","s":"试验值","a":153.4,"v":-0.0042},{"p":"c","s":"试验值","a":156.8,"v":-0.0025},{"p":"c","s":"试验值","a":159.6,"v":-0.0013},{"p":"c","s":"试验值","a":160.7,"v":0},{"p":"c","s":"试验值","a":162.6,"v":0.001},{"p":"c","s":"试验值","a":164.6,"v":0.0019},{"p":"c","s":"试验值","a":166.9,"v":0.003},{"p":"c","s":"试验值","a":169.4,"v":0.0041},{"p":"c","s":"试验值","a":171.7,"v":0.0051},{"p":"c","s":"试验值","a":174,"v":0.006},{"p":"c","s":"试验值","a":177.3,"v":0.0071},{"p":"c","s":"试验值","a":180.2,"v":0.008},{"p":"c","s":"试验值","a":183.7,"v":0.009},{"p":"c","s":"试验值","a":188.7,"v":0.0101},{"p":"c","s":"试验值","a":190.1,"v":0.0108},{"p":"c","s":"试验值","a":195.2,"v":0.0115},{"p":"c","s":"试验值","a":200.2,"v":0.012},{"p":"c","s":"试验值","a":203.9,"v":0.0123},{"p":"c","s":"试验值","a":211.2,"v":0.0124},{"p":"c","s":"试验值","a":216.3,"v":0.0127},{"p":"c","s":"试验值","a":220,"v":0.0128},{"p":"c","s":"试验值","a":226.2,"v":0.0131},{"p":"c","s":"试验值","a":230.7,"v":0.0131},{"p":"c","s":"试验值","a":234.6,"v":0.0128},{"p":"c","s":"试验值","a":240.6,"v":0.0128},{"p":"c","s":"试验值","a":248,"v":0.0126},{"p":"c","s":"试验值","a":256.7,"v":0.0128},{"p":"c","s":"试验值","a":265.2,"v":0.0128},{"p":"c","s":"试验值","a":270.5,"v":0.0132},{"p":"c","s":"试验值","a":277.4,"v":0.0134},{"p":"c","s":"试验值","a":280.1,"v":0.0138},{"p":"c","s":"试验值","a":284.2,"v":0.0143},{"p":"c","s":"试验值","a":287.5,"v":0.015},{"p":"c","s":"试验值","a":290.4,"v":0.016},{"p":"c","s":"试验值","a":292.7,"v":0.0175},{"p":"c","s":"试验值","a":295,"v":0.0188},{"p":"c","s":"试验值","a":296.6,"v":0.0199},{"p":"c","s":"试验值","a":297.3,"v":0.0186},{"p":"c","s":"试验值","a":298,"v":0.017},{"p":"c","s":"试验值","a":299,"v":0.0155},{"p":"c","s":"试验值","a":299.6,"v":0.0138},{"p":"c","s":"试验值","a":301.2,"v":0.013},{"p":"c","s":"试验值","a":306,"v":0.0141},{"p":"c","s":"试验值","a":311.1,"v":0.0155},{"p":"c","s":"试验值","a":317.5,"v":0.0166},{"p":"c","s":"试验值","a":320.3,"v":0.0178},{"p":"c","s":"试验值","a":323.7,"v":0.0184},{"p":"c","s":"试验值","a":327.2,"v":0.0192},{"p":"c","s":"试验值","a":330.6,"v":0.0199},{"p":"c","s":"试验值","a":333.4,"v":0.0213},{"p":"c","s":"试验值","a":335.7,"v":0.0216},{"p":"c","s":"试验值","a":337,"v":0.023},{"p":"c","s":"试验值","a":337.3,"v":0.0245},{"p":"c","s":"试验值","a":337.6,"v":0.0253},{"p":"c","s":"试验值","a":339.4,"v":0.0266},{"p":"c","s":"试验值","a":341.6,"v":0.0274},{"p":"c","s":"试验值","a":344.4,"v":0.0264},{"p":"c","s":"试验值","a":345.6,"v":0.0256},{"p":"c","s":"试验值","a":347.2,"v":0.0244},{"p":"c","s":"试验值","a":347.8,"v":0.0227},{"p":"c","s":"试验值","a":348.5,"v":0.0211},{"p":"c","s":"试验值","a":349.4,"v":0.019},{"p":"c","s":"试验值","a":350.1,"v":0.0174},{"p":"c","s":"试验值","a":350.8,"v":0.0158},{"p":"c","s":"试验值","a":351.3,"v":0.0141},{"p":"c","s":"试验值","a":353.6,"v":0.0127},{"p":"c","s":"试验值","a":355.9,"v":0.0113},{"p":"c","s":"试验值","a":357,"v":0.0102},{"p":"c","s":"试验值","a":358.2,"v":0.009},{"p":"c","s":"试验值","a":359.3,"v":0.0079}
]},
"bounds": "flush",
"spacing": 367,
"hconcat": [
{
"width": 860, "height": 761,
"title": {"text": "(a) r/R=0.225", "orient": "bottom", "offset": 48, "frame": "group", "anchor": "middle"},
"resolve": {"axis": {"x": "independent", "y": "independent"}},
"layer": [
{"transform": [{"filter": "datum.p === 'a' && datum.s === '文献[21]计算值'"}],
 "mark": {"type": "line", "strokeWidth": 3.3},
 "encoding": {
  "x": {"field": "a", "type": "quantitative", "scale": {"domain": [0, 360], "nice": false, "zero": false}, "axis": {"orient": "bottom", "values": [0, 90, 180, 270, 360], "ticks": false, "labelPadding": 27, "labelFlush": false, "labelOverlap": false, "title": "方位角/(°)", "titlePadding": 22}},
  "y": {"field": "v", "type": "quantitative", "scale": {"domain": [-0.04, 0.04], "nice": false, "zero": false}, "axis": {"orient": "left", "values": [-0.04, -0.02, 0, 0.02, 0.04], "ticks": false, "labelPadding": 24, "labelFlush": false, "labelOverlap": false, "labelExpr": "datum.value === 0 ? '0' : format(datum.value, '.2f')", "title": "法向力系数M²Cₙ", "titlePadding": 40}},
  "color": {"field": "s", "type": "nominal", "scale": {"domain": ["试验值", "文献[21]计算值", "本文计算值"], "range": ["#ff0000", "#0000ff", "#000000"]},
   "legend": {"orient": "none", "legendX": 927, "legendY": -159, "direction": "horizontal", "title": null, "padding": 0, "labelFontSize": 64, "labelLimit": 2000, "labelFont": "Liberation Serif, Noto Sans CJK SC", "labelColor": "black", "symbolSize": 6889, "symbolStrokeWidth": 3.3, "labelOffset": 20, "columnPadding": 96, "symbolType": "stroke"}},
  "strokeDash": {"field": "s", "type": "nominal", "scale": {"domain": ["试验值", "文献[21]计算值", "本文计算值"], "range": [[1, 0], [10, 8], [1, 0]]},
   "legend": {"orient": "none", "legendX": 927, "legendY": -159, "direction": "horizontal", "title": null, "padding": 0, "labelFontSize": 64, "labelLimit": 2000, "labelFont": "Liberation Serif, Noto Sans CJK SC", "labelColor": "black", "symbolSize": 6889, "symbolStrokeWidth": 3.3, "labelOffset": 20, "columnPadding": 96, "symbolType": "stroke"}}
 }},
{"transform": [{"filter": "datum.p === 'a' && datum.s === '本文计算值'"}],
 "mark": {"type": "line", "strokeWidth": 3.3},
 "encoding": {
  "x": {"field": "a", "type": "quantitative", "scale": {"domain": [0, 360], "nice": false, "zero": false}, "axis": {"orient": "bottom", "values": [0, 90, 180, 270, 360], "labels": false, "tickSize": -14, "title": null}},
  "y": {"field": "v", "type": "quantitative", "scale": {"domain": [-0.04, 0.04], "nice": false, "zero": false}, "axis": {"orient": "left", "values": [-0.04, -0.02, 0, 0.02, 0.04], "labels": false, "tickSize": -14, "title": null}},
  "color": {"field": "s", "type": "nominal", "scale": {"domain": ["试验值", "文献[21]计算值", "本文计算值"], "range": ["#ff0000", "#0000ff", "#000000"]}, "legend": null},
  "strokeDash": {"field": "s", "type": "nominal", "scale": {"domain": ["试验值", "文献[21]计算值", "本文计算值"], "range": [[1, 0], [10, 8], [1, 0]]}, "legend": null}
 }},
{"transform": [{"filter": "datum.p === 'a' && datum.s === '试验值'"}],
 "mark": {"type": "line", "strokeWidth": 2.8},
 "encoding": {
  "x": {"field": "a", "type": "quantitative", "scale": {"domain": [0, 360], "nice": false, "zero": false}, "axis": {"orient": "bottom", "values": [45, 135, 225, 315], "labels": false, "tickSize": -8, "title": null}},
  "y": {"field": "v", "type": "quantitative", "scale": {"domain": [-0.04, 0.04], "nice": false, "zero": false}, "axis": {"orient": "left", "values": [-0.03, -0.01, 0.01, 0.03], "labels": false, "tickSize": -8, "title": null}},
  "color": {"field": "s", "type": "nominal", "scale": {"domain": ["试验值", "文献[21]计算值", "本文计算值"], "range": ["#ff0000", "#0000ff", "#000000"]}, "legend": null},
  "strokeDash": {"field": "s", "type": "nominal", "scale": {"domain": ["试验值", "文献[21]计算值", "本文计算值"], "range": [[1, 0], [10, 8], [1, 0]]}, "legend": null}
 }},
{"transform": [{"filter": "datum.p === 'a' && datum.s === '试验值'"}],
 "mark": {"type": "point", "filled": false, "fill": "white", "color": "#ff0000", "size": 75, "strokeWidth": 2.8, "opacity": 1},
 "encoding": {
  "x": {"field": "a", "type": "quantitative", "scale": {"domain": [0, 360], "nice": false, "zero": false}, "axis": null},
  "y": {"field": "v", "type": "quantitative", "scale": {"domain": [-0.04, 0.04], "nice": false, "zero": false}, "axis": null},
  "shape": {"field": "s", "type": "nominal", "scale": {"domain": ["试验值"], "range": ["circle"]},
   "legend": {"orient": "none", "legendX": 961, "legendY": -124, "title": null, "padding": 0, "labelExpr": "''", "labelFontSize": 1, "labelOffset": 0, "symbolSize": 144, "symbolStrokeWidth": 2.8, "symbolOpacity": 1}}
 }}
]
},
{
"width": 860, "height": 761,
"title": {"text": "(b) r/R=0.865", "orient": "bottom", "offset": 48, "frame": "group", "anchor": "middle"},
"resolve": {"axis": {"x": "independent", "y": "independent"}},
"layer": [
{"transform": [{"filter": "datum.p === 'b' && datum.s === '文献[21]计算值'"}],
 "mark": {"type": "line", "strokeWidth": 3.3},
 "encoding": {
  "x": {"field": "a", "type": "quantitative", "scale": {"domain": [0, 360], "nice": false, "zero": false}, "axis": {"orient": "bottom", "values": [0, 90, 180, 270, 360], "ticks": false, "labelPadding": 27, "labelFlush": false, "labelOverlap": false, "title": "方位角/(°)", "titlePadding": 22}},
  "y": {"field": "v", "type": "quantitative", "scale": {"domain": [-0.04, 0.04], "nice": false, "zero": false}, "axis": {"orient": "left", "values": [-0.04, -0.02, 0, 0.02, 0.04], "ticks": false, "labelPadding": 24, "labelFlush": false, "labelOverlap": false, "labelExpr": "datum.value === 0 ? '0' : format(datum.value, '.2f')", "title": "法向力系数M²Cₙ", "titlePadding": 40}},
  "color": {"field": "s", "type": "nominal", "scale": {"domain": ["试验值", "文献[21]计算值", "本文计算值"], "range": ["#ff0000", "#0000ff", "#000000"]}, "legend": null},
  "strokeDash": {"field": "s", "type": "nominal", "scale": {"domain": ["试验值", "文献[21]计算值", "本文计算值"], "range": [[1, 0], [10, 8], [1, 0]]}, "legend": null}
 }},
{"transform": [{"filter": "datum.p === 'b' && datum.s === '本文计算值'"}],
 "mark": {"type": "line", "strokeWidth": 3.3},
 "encoding": {
  "x": {"field": "a", "type": "quantitative", "scale": {"domain": [0, 360], "nice": false, "zero": false}, "axis": {"orient": "bottom", "values": [0, 90, 180, 270, 360], "labels": false, "tickSize": -14, "title": null}},
  "y": {"field": "v", "type": "quantitative", "scale": {"domain": [-0.04, 0.04], "nice": false, "zero": false}, "axis": {"orient": "left", "values": [-0.01333, 0.01333], "labels": false, "tickSize": -14, "title": null}},
  "color": {"field": "s", "type": "nominal", "scale": {"domain": ["试验值", "文献[21]计算值", "本文计算值"], "range": ["#ff0000", "#0000ff", "#000000"]}, "legend": null},
  "strokeDash": {"field": "s", "type": "nominal", "scale": {"domain": ["试验值", "文献[21]计算值", "本文计算值"], "range": [[1, 0], [10, 8], [1, 0]]}, "legend": null}
 }},
{"transform": [{"filter": "datum.p === 'b' && datum.s === '试验值'"}],
 "mark": {"type": "line", "strokeWidth": 2.8},
 "encoding": {
  "x": {"field": "a", "type": "quantitative", "scale": {"domain": [0, 360], "nice": false, "zero": false}, "axis": {"orient": "bottom", "values": [45, 135, 225, 315], "labels": false, "tickSize": -8, "title": null}},
  "y": {"field": "v", "type": "quantitative", "scale": {"domain": [-0.04, 0.04], "nice": false, "zero": false}, "axis": {"orient": "left", "values": [-0.02667, 0, 0.02667], "labels": false, "tickSize": -8, "title": null}},
  "color": {"field": "s", "type": "nominal", "scale": {"domain": ["试验值", "文献[21]计算值", "本文计算值"], "range": ["#ff0000", "#0000ff", "#000000"]}, "legend": null},
  "strokeDash": {"field": "s", "type": "nominal", "scale": {"domain": ["试验值", "文献[21]计算值", "本文计算值"], "range": [[1, 0], [10, 8], [1, 0]]}, "legend": null}
 }},
{"transform": [{"filter": "datum.p === 'b' && datum.s === '试验值'"}],
 "mark": {"type": "point", "filled": false, "fill": "white", "color": "#ff0000", "size": 75, "strokeWidth": 2.8, "opacity": 1},
 "encoding": {
  "x": {"field": "a", "type": "quantitative", "scale": {"domain": [0, 360], "nice": false, "zero": false}, "axis": null},
  "y": {"field": "v", "type": "quantitative", "scale": {"domain": [-0.04, 0.04], "nice": false, "zero": false}, "axis": null}
 }}
]
},
{
"width": 860, "height": 761,
"title": {"text": "(c) r/R=0.920", "orient": "bottom", "offset": 48, "frame": "group", "anchor": "middle"},
"resolve": {"axis": {"x": "independent", "y": "independent"}},
"layer": [
{"transform": [{"filter": "datum.p === 'c' && datum.s === '文献[21]计算值'"}],
 "mark": {"type": "line", "strokeWidth": 3.3},
 "encoding": {
  "x": {"field": "a", "type": "quantitative", "scale": {"domain": [0, 360], "nice": false, "zero": false}, "axis": {"orient": "bottom", "values": [0, 90, 180, 270, 360], "ticks": false, "labelPadding": 27, "labelFlush": false, "labelOverlap": false, "title": "方位角/(°)", "titlePadding": 22}},
  "y": {"field": "v", "type": "quantitative", "scale": {"domain": [-0.04, 0.04], "nice": false, "zero": false}, "axis": {"orient": "left", "values": [-0.04, -0.02, 0, 0.02, 0.04], "ticks": false, "labelPadding": 24, "labelFlush": false, "labelOverlap": false, "labelExpr": "datum.value === 0 ? '0' : format(datum.value, '.2f')", "title": "法向力系数M²Cₙ", "titlePadding": 40}},
  "color": {"field": "s", "type": "nominal", "scale": {"domain": ["试验值", "文献[21]计算值", "本文计算值"], "range": ["#ff0000", "#0000ff", "#000000"]}, "legend": null},
  "strokeDash": {"field": "s", "type": "nominal", "scale": {"domain": ["试验值", "文献[21]计算值", "本文计算值"], "range": [[1, 0], [10, 8], [1, 0]]}, "legend": null}
 }},
{"transform": [{"filter": "datum.p === 'c' && datum.s === '本文计算值'"}],
 "mark": {"type": "line", "strokeWidth": 3.3},
 "encoding": {
  "x": {"field": "a", "type": "quantitative", "scale": {"domain": [0, 360], "nice": false, "zero": false}, "axis": {"orient": "bottom", "values": [0, 90, 180, 270, 360], "labels": false, "tickSize": -14, "title": null}},
  "y": {"field": "v", "type": "quantitative", "scale": {"domain": [-0.04, 0.04], "nice": false, "zero": false}, "axis": {"orient": "left", "values": [-0.04, -0.02, 0, 0.02, 0.04], "labels": false, "tickSize": -14, "title": null}},
  "color": {"field": "s", "type": "nominal", "scale": {"domain": ["试验值", "文献[21]计算值", "本文计算值"], "range": ["#ff0000", "#0000ff", "#000000"]}, "legend": null},
  "strokeDash": {"field": "s", "type": "nominal", "scale": {"domain": ["试验值", "文献[21]计算值", "本文计算值"], "range": [[1, 0], [10, 8], [1, 0]]}, "legend": null}
 }},
{"transform": [{"filter": "datum.p === 'c' && datum.s === '试验值'"}],
 "mark": {"type": "line", "strokeWidth": 2.8},
 "encoding": {
  "x": {"field": "a", "type": "quantitative", "scale": {"domain": [0, 360], "nice": false, "zero": false}, "axis": {"orient": "bottom", "values": [45, 135, 225, 315], "labels": false, "tickSize": -8, "title": null}},
  "y": {"field": "v", "type": "quantitative", "scale": {"domain": [-0.04, 0.04], "nice": false, "zero": false}, "axis": {"orient": "left", "values": [-0.03, -0.01, 0.01, 0.03], "labels": false, "tickSize": -8, "title": null}},
  "color": {"field": "s", "type": "nominal", "scale": {"domain": ["试验值", "文献[21]计算值", "本文计算值"], "range": ["#ff0000", "#0000ff", "#000000"]}, "legend": null},
  "strokeDash": {"field": "s", "type": "nominal", "scale": {"domain": ["试验值", "文献[21]计算值", "本文计算值"], "range": [[1, 0], [10, 8], [1, 0]]}, "legend": null}
 }},
{"transform": [{"filter": "datum.p === 'c' && datum.s === '试验值'"}],
 "mark": {"type": "point", "filled": false, "fill": "white", "color": "#ff0000", "size": 75, "strokeWidth": 2.8, "opacity": 1},
 "encoding": {
  "x": {"field": "a", "type": "quantitative", "scale": {"domain": [0, 360], "nice": false, "zero": false}, "axis": null},
  "y": {"field": "v", "type": "quantitative", "scale": {"domain": [-0.04, 0.04], "nice": false, "zero": false}, "axis": null}
 }}
]
}
],
"config": {
 "view": {"stroke": "black", "strokeWidth": 3.5},
 "axis": {"grid": false, "domain": false, "labelFont": "Liberation Serif, Noto Sans CJK SC", "labelFontSize": 64, "labelColor": "black", "titleFont": "Liberation Serif, Noto Sans CJK SC", "titleFontSize": 64, "titleFontWeight": "normal", "titleColor": "black", "tickColor": "black", "tickWidth": 3.5},
 "title": {"font": "Liberation Serif, Noto Sans CJK SC", "fontSize": 64, "fontWeight": "normal", "color": "black"}
}
}
